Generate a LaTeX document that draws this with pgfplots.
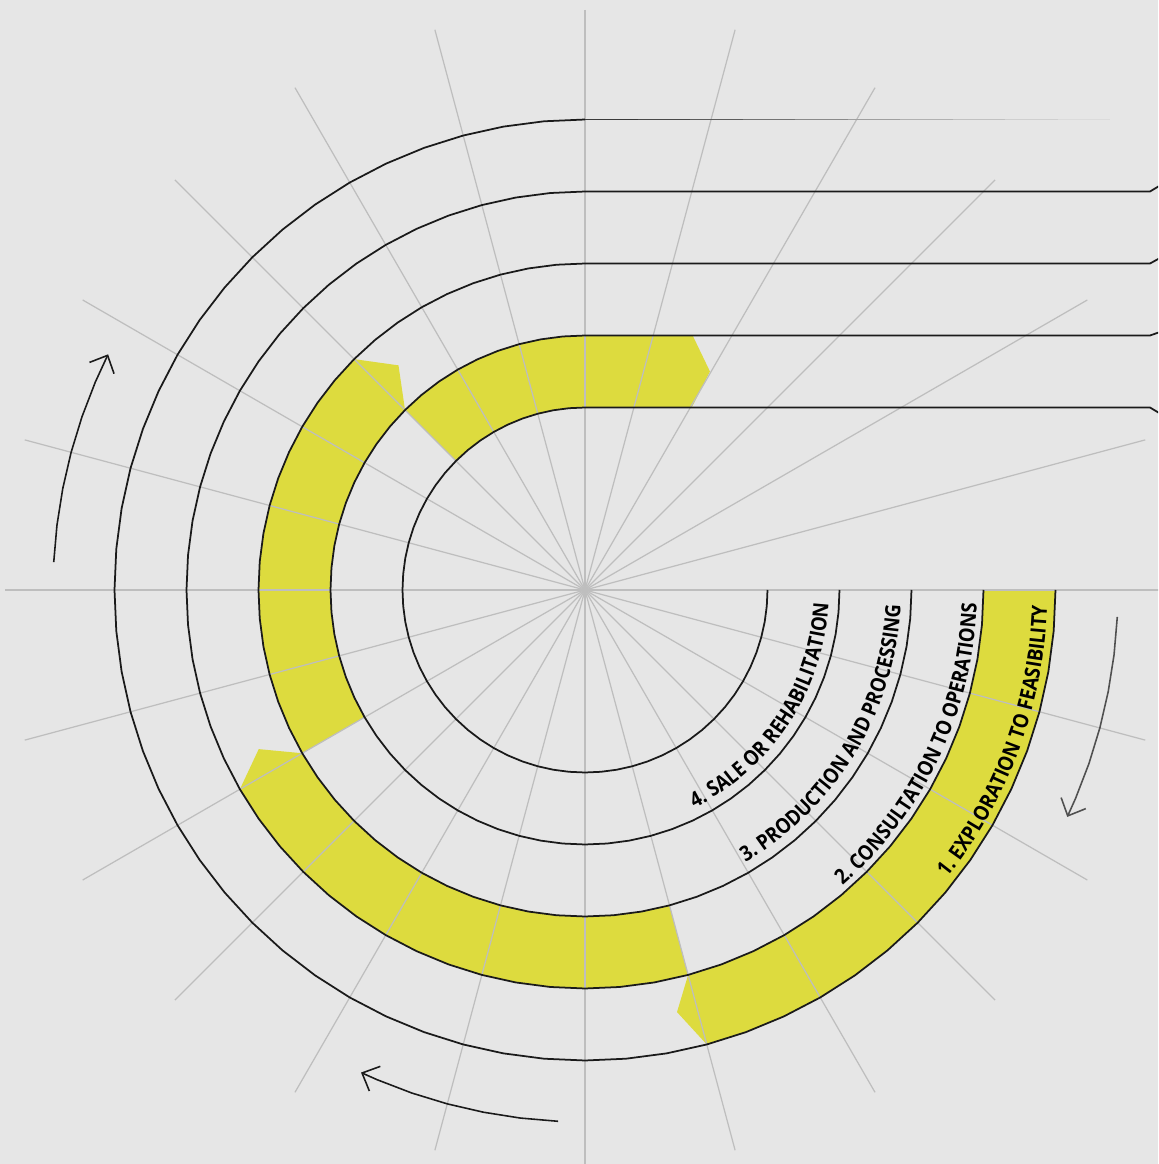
\documentclass[border=0pt]{standalone}
\usepackage{pgfplots}
\pgfplotsset{compat=1.18}
\usepackage{fontspec}
\usetikzlibrary{decorations.text, arrows.meta}
\newfontfamily\lblfont[FakeStretch=0.88]{Open Sans}
\definecolor{bg}{HTML}{E6E6E6}
\definecolor{ylw}{HTML}{DDDB3E}
\definecolor{gridc}{HTML}{BEBEBE}
\definecolor{ink}{HTML}{1A1A1A}
\definecolor{arrg}{HTML}{505050}
\newcommand{\lf}{\lblfont\bfseries\fontsize{6}{7}\selectfont}
\begin{document}
\begin{tikzpicture}
\begin{axis}[
  scale only axis, width=11.58cm, height=11.64cm,
  xmin=-585, xmax=573, ymin=-574, ymax=590,
  axis line style={draw=none}, ticks=none,
  axis background/.style={fill=bg},
  clip=true,
]
% ---------- yellow bands ----------
\addplot[fill=ylw, draw=none, data cs=polar] coordinates {
(0,470.5) (-5,470.5) (-10,470.5) (-15,470.5) (-20,470.5) (-25,470.5) (-30,470.5) (-35,470.5) (-40,470.5) (-45,470.5) (-50,470.5) (-55,470.5) (-60,470.5) (-65,470.5) (-70,470.5) (-75,470.5)
(-77.7,432)
(-75,398.5) (-70,398.5) (-65,398.5) (-60,398.5) (-55,398.5) (-50,398.5) (-45,398.5) (-40,398.5) (-35,398.5) (-30,398.5) (-25,398.5) (-20,398.5) (-15,398.5) (-10,398.5) (-5,398.5) (0,398.5)};
\addplot[fill=ylw, draw=none, data cs=polar] coordinates {
(-75,398.5) (-80,398.5) (-85,398.5) (-90,398.5) (-95,398.5) (-100,398.5) (-105,398.5) (-110,398.5) (-115,398.5) (-120,398.5) (-125,398.5) (-130,398.5) (-135,398.5) (-140,398.5) (-145,398.5) (-150,398.5)
(-154,363)
(-150,326.5) (-145,326.5) (-140,326.5) (-135,326.5) (-130,326.5) (-125,326.5) (-120,326.5) (-115,326.5) (-110,326.5) (-105,326.5) (-100,326.5) (-95,326.5) (-90,326.5) (-85,326.5) (-80,326.5) (-75,326.5)};
\addplot[fill=ylw, draw=none, data cs=polar] coordinates {
(-150,326.5) (-155,326.5) (-160,326.5) (-165,326.5) (-170,326.5) (-175,326.5) (-180,326.5) (-185,326.5) (-190,326.5) (-195,326.5) (-200,326.5) (-205,326.5) (-210,326.5) (-215,326.5) (-220,326.5) (-225,326.5)
(-230.3,292)
(-225,254.5) (-220,254.5) (-215,254.5) (-210,254.5) (-205,254.5) (-200,254.5) (-195,254.5) (-190,254.5) (-185,254.5) (-180,254.5) (-175,254.5) (-170,254.5) (-165,254.5) (-160,254.5) (-155,254.5) (-150,254.5)};
\addplot[fill=ylw, draw=none, data cs=polar] coordinates {
(-225,254.5) (-230,254.5) (-235,254.5) (-240,254.5) (-245,254.5) (-250,254.5) (-255,254.5) (-260,254.5) (-265,254.5) (-270,254.5)
(67.07,276.35) (60.23,251.7) (59.68,211.4)
(-270,182.5) (-265,182.5) (-260,182.5) (-255,182.5) (-250,182.5) (-245,182.5) (-240,182.5) (-235,182.5) (-230,182.5) (-225,182.5)};
% ---------- grey radial lines ----------
\addplot[gridc, line width=0.35pt, data cs=polar] coordinates {(0,580) (180,580)};
\addplot[gridc, line width=0.35pt, data cs=polar] coordinates {(15,580) (195,580)};
\addplot[gridc, line width=0.35pt, data cs=polar] coordinates {(30,580) (210,580)};
\addplot[gridc, line width=0.35pt, data cs=polar] coordinates {(45,580) (225,580)};
\addplot[gridc, line width=0.35pt, data cs=polar] coordinates {(60,580) (240,580)};
\addplot[gridc, line width=0.35pt, data cs=polar] coordinates {(75,580) (255,580)};
\addplot[gridc, line width=0.35pt, data cs=polar] coordinates {(90,580) (270,580)};
\addplot[gridc, line width=0.35pt, data cs=polar] coordinates {(105,580) (285,580)};
\addplot[gridc, line width=0.35pt, data cs=polar] coordinates {(120,580) (300,580)};
\addplot[gridc, line width=0.35pt, data cs=polar] coordinates {(135,580) (315,580)};
\addplot[gridc, line width=0.35pt, data cs=polar] coordinates {(150,580) (330,580)};
\addplot[gridc, line width=0.35pt, data cs=polar] coordinates {(165,580) (345,580)};
% ---------- black arcs ----------
\addplot[ink, line width=0.5pt, data cs=polar] coordinates {
(0,182.5) (-5,182.5) (-10,182.5) (-15,182.5) (-20,182.5) (-25,182.5) (-30,182.5) (-35,182.5) (-40,182.5) (-45,182.5) (-50,182.5) (-55,182.5) (-60,182.5) (-65,182.5) (-70,182.5) (-75,182.5) (-80,182.5) (-85,182.5) (-90,182.5) (-95,182.5) (-100,182.5) (-105,182.5) (-110,182.5) (-115,182.5) (-120,182.5) (-125,182.5) (-130,182.5) (-135,182.5) (-140,182.5) (-145,182.5) (-150,182.5) (-155,182.5) (-160,182.5) (-165,182.5) (-170,182.5) (-175,182.5) (-180,182.5) (-185,182.5) (-190,182.5) (-195,182.5) (-200,182.5) (-205,182.5) (-210,182.5) (-215,182.5) (-220,182.5) (-225,182.5) (-230,182.5) (-235,182.5) (-240,182.5) (-245,182.5) (-250,182.5) (-255,182.5) (-260,182.5) (-265,182.5) (-270,182.5)};
\addplot[ink, line width=0.5pt, data cs=polar] coordinates {
(0,254.5) (-5,254.5) (-10,254.5) (-15,254.5) (-20,254.5) (-25,254.5) (-30,254.5) (-35,254.5) (-40,254.5) (-45,254.5) (-50,254.5) (-55,254.5) (-60,254.5) (-65,254.5) (-70,254.5) (-75,254.5) (-80,254.5) (-85,254.5) (-90,254.5) (-95,254.5) (-100,254.5) (-105,254.5) (-110,254.5) (-115,254.5) (-120,254.5) (-125,254.5) (-130,254.5) (-135,254.5) (-140,254.5) (-145,254.5) (-150,254.5) (-155,254.5) (-160,254.5) (-165,254.5) (-170,254.5) (-175,254.5) (-180,254.5) (-185,254.5) (-190,254.5) (-195,254.5) (-200,254.5) (-205,254.5) (-210,254.5) (-215,254.5) (-220,254.5) (-225,254.5) (-230,254.5) (-235,254.5) (-240,254.5) (-245,254.5) (-250,254.5) (-255,254.5) (-260,254.5) (-265,254.5) (-270,254.5)};
\addplot[ink, line width=0.5pt, data cs=polar] coordinates {
(0,326.5) (-5,326.5) (-10,326.5) (-15,326.5) (-20,326.5) (-25,326.5) (-30,326.5) (-35,326.5) (-40,326.5) (-45,326.5) (-50,326.5) (-55,326.5) (-60,326.5) (-65,326.5) (-70,326.5) (-75,326.5) (-80,326.5) (-85,326.5) (-90,326.5) (-95,326.5) (-100,326.5) (-105,326.5) (-110,326.5) (-115,326.5) (-120,326.5) (-125,326.5) (-130,326.5) (-135,326.5) (-140,326.5) (-145,326.5) (-150,326.5) (-155,326.5) (-160,326.5) (-165,326.5) (-170,326.5) (-175,326.5) (-180,326.5) (-185,326.5) (-190,326.5) (-195,326.5) (-200,326.5) (-205,326.5) (-210,326.5) (-215,326.5) (-220,326.5) (-225,326.5) (-230,326.5) (-235,326.5) (-240,326.5) (-245,326.5) (-250,326.5) (-255,326.5) (-260,326.5) (-265,326.5) (-270,326.5)};
\addplot[ink, line width=0.5pt, data cs=polar] coordinates {
(0,398.5) (-5,398.5) (-10,398.5) (-15,398.5) (-20,398.5) (-25,398.5) (-30,398.5) (-35,398.5) (-40,398.5) (-45,398.5) (-50,398.5) (-55,398.5) (-60,398.5) (-65,398.5) (-70,398.5) (-75,398.5) (-80,398.5) (-85,398.5) (-90,398.5) (-95,398.5) (-100,398.5) (-105,398.5) (-110,398.5) (-115,398.5) (-120,398.5) (-125,398.5) (-130,398.5) (-135,398.5) (-140,398.5) (-145,398.5) (-150,398.5) (-155,398.5) (-160,398.5) (-165,398.5) (-170,398.5) (-175,398.5) (-180,398.5) (-185,398.5) (-190,398.5) (-195,398.5) (-200,398.5) (-205,398.5) (-210,398.5) (-215,398.5) (-220,398.5) (-225,398.5) (-230,398.5) (-235,398.5) (-240,398.5) (-245,398.5) (-250,398.5) (-255,398.5) (-260,398.5) (-265,398.5) (-270,398.5)};
\addplot[ink, line width=0.5pt, data cs=polar] coordinates {
(0,470.5) (-5,470.5) (-10,470.5) (-15,470.5) (-20,470.5) (-25,470.5) (-30,470.5) (-35,470.5) (-40,470.5) (-45,470.5) (-50,470.5) (-55,470.5) (-60,470.5) (-65,470.5) (-70,470.5) (-75,470.5) (-80,470.5) (-85,470.5) (-90,470.5) (-95,470.5) (-100,470.5) (-105,470.5) (-110,470.5) (-115,470.5) (-120,470.5) (-125,470.5) (-130,470.5) (-135,470.5) (-140,470.5) (-145,470.5) (-150,470.5) (-155,470.5) (-160,470.5) (-165,470.5) (-170,470.5) (-175,470.5) (-180,470.5) (-185,470.5) (-190,470.5) (-195,470.5) (-200,470.5) (-205,470.5) (-210,470.5) (-215,470.5) (-220,470.5) (-225,470.5) (-230,470.5) (-235,470.5) (-240,470.5) (-245,470.5) (-250,470.5) (-255,470.5) (-260,470.5) (-265,470.5) (-270,470.5)};
% ---------- straight runs to the right ----------
\addplot[ink, line width=0.5pt] coordinates {(0,182.5) (565,182.5) (575,176.5)};
\addplot[ink, line width=0.5pt] coordinates {(0,254.5) (565,254.5) (575,258)};
\addplot[ink, line width=0.5pt] coordinates {(0,326.5) (565,326.5) (575,332)};
\addplot[ink, line width=0.5pt] coordinates {(0,398.5) (565,398.5) (575,404.5)};
% fading outer run
\addplot[black!75!bg, line width=0.5pt] coordinates {(0,470.5) (52.5,470.5)};
\addplot[black!68!bg, line width=0.5pt] coordinates {(52.5,470.5) (105,470.5)};
\addplot[black!60!bg, line width=0.5pt] coordinates {(105,470.5) (157.5,470.5)};
\addplot[black!50!bg, line width=0.5pt] coordinates {(157.5,470.5) (210,470.5)};
\addplot[black!40!bg, line width=0.5pt] coordinates {(210,470.5) (262.5,470.5)};
\addplot[black!31!bg, line width=0.5pt] coordinates {(262.5,470.5) (315,470.5)};
\addplot[black!23!bg, line width=0.5pt] coordinates {(315,470.5) (367.5,470.5)};
\addplot[black!16!bg, line width=0.5pt] coordinates {(367.5,470.5) (420,470.5)};
\addplot[black!10!bg, line width=0.5pt] coordinates {(420,470.5) (472.5,470.5)};
\addplot[black!5!bg, line width=0.5pt] coordinates {(472.5,470.5) (525,470.5)};
% ---------- direction arrows ----------
\addplot[ink, line width=0.45pt, -{Straight Barb[length=1.4mm,width=2.7mm]}, data cs=polar] coordinates {
(177,532) (173,532) (169,532) (165,532) (161,532) (157,532) (153.7,532)};
\addplot[arrg, line width=0.45pt, -{Straight Barb[length=1.4mm,width=2.7mm]}, data cs=polar] coordinates {
(-2.9,533) (-7,533) (-11,533) (-15,533) (-19,533) (-23,533) (-25.2,533)};
\addplot[ink, line width=0.45pt, -{Straight Barb[length=1.4mm,width=2.7mm]}, data cs=polar] coordinates {
(-92.9,532) (-97,532) (-101,532) (-105,532) (-109,532) (-113,532) (-114.9,532)};
% ---------- curved labels ----------
\path[decorate, decoration={text along path, text align=right,
  text={|\lf|1. EXPLORATION TO FEASIBILITY}}]
  (axis cs:0,0) ++(-90:4.625cm) arc[start angle=-90, end angle=-1.98, radius=4.625cm];
\path[decorate, decoration={text along path, text align=right,
  text={|\lf|2. CONSULTATION TO OPERATIONS}}]
  (axis cs:0,0) ++(-90:3.92cm) arc[start angle=-90, end angle=-1.95, radius=3.92cm];
\path[decorate, decoration={text along path, text align=right,
  text={|\lf|3. PRODUCTION AND PROCESSING}}]
  (axis cs:0,0) ++(-90:3.16cm) arc[start angle=-90, end angle=-2.7, radius=3.16cm];
\path[decorate, decoration={text along path, text align=right,
  text={|\lf|4. SALE OR REHABILITATION}}]
  (axis cs:0,0) ++(-90:2.44cm) arc[start angle=-90, end angle=-3.1, radius=2.44cm];
\end{axis}
\pgfresetboundingbox
\path (current axis.south west) rectangle (current axis.north east);
\end{tikzpicture}
\end{document}
